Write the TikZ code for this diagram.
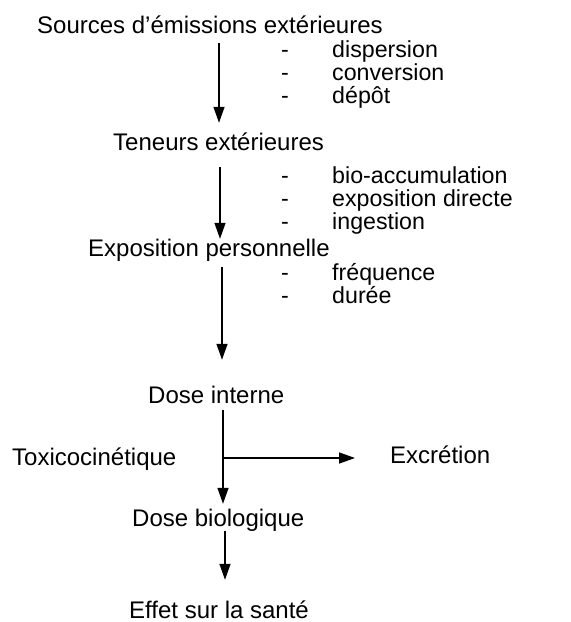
\documentclass[tikz,border=0pt]{standalone}
\usepackage{fontspec}
\setmainfont{Liberation Sans}
\usetikzlibrary{arrows.meta}
\begin{document}
\begin{tikzpicture}[x=1pt,y=-1pt,
  lbl/.style={anchor=base west, inner sep=0pt, text height=18pt, text depth=5pt,
              font=\fontsize{24}{28}\selectfont},
  item/.style={lbl, text height=14pt, text depth=4pt, font=\fontsize{23.2}{27}\selectfont},
  arr/.style={line width=1.4pt, -{Triangle[width=11pt,length=16pt]}}]
\useasboundingbox (0,0) rectangle (571,622);
% main labels
\node[lbl] (src)  at (37,33)   {Sources d’émissions extérieures};
\node[lbl] (ten)  at (113,150) {Teneurs extérieures};
\node[lbl] (expo) at (88,256)  {Exposition personnelle};
\node[lbl] (dint) at (148,403) {Dose interne};
\node[lbl] (tox)  at (12,465)  {Toxicocinétique};
\node[lbl] (exc)  at (390,463) {Excrétion};
\node[lbl] (dbio) at (132,526) {Dose biologique};
\node[lbl] (eff)  at (129,618) {Effet sur la santé};
% lists
\node[item] (m1) at (281,57)  {-};  \node[item] (l1) at (332,57)  {dispersion};
\node[item] (m2) at (281,80)  {-};  \node[item] (l2) at (332,80)  {conversion};
\node[item] (m3) at (281,103) {-};  \node[item] (l3) at (332,103) {dépôt};
\node[item] (m4) at (281,183) {-};  \node[item] (l4) at (332,183) {bio-accumulation};
\node[item] (m5) at (281,206) {-};  \node[item] (l5) at (332,206) {exposition directe};
\node[item] (m6) at (281,229) {-};  \node[item] (l6) at (332,229) {ingestion};
\node[item] (m7) at (281,280) {-};  \node[item] (l7) at (332,280) {fréquence};
\node[item] (m8) at (281,303) {-};  \node[item] (l8) at (332,303) {durée};
% arrow columns
\coordinate (x1) at (219,0);
\coordinate (x2) at (220,0);
\coordinate (x3) at (222,0);
\coordinate (x4) at (223,0);
\coordinate (x5) at (225,0);
\coordinate (br) at (223,458);
% connectors
\draw[arr, shorten <=5pt, shorten >=9pt] (src.south -| x1) -- (ten.north -| x1);
\draw[arr, shorten <=12pt, shorten >=-1pt] (ten.south -| x2) -- (expo.north -| x2);
\draw[arr, shorten <=6pt, shorten >=25pt] (expo.south -| x3) -- (dint.north -| x3);
\draw[arr, shorten <=2pt, shorten >=4pt] (dint.south -| x4) -- (dbio.north -| x4);
\draw[arr, shorten >=35pt] (br) -- (exc.west |- br);
\draw[arr, shorten <=0pt, shorten >=20pt] (dbio.south -| x5) -- (eff.north -| x5);
\end{tikzpicture}
\end{document}
